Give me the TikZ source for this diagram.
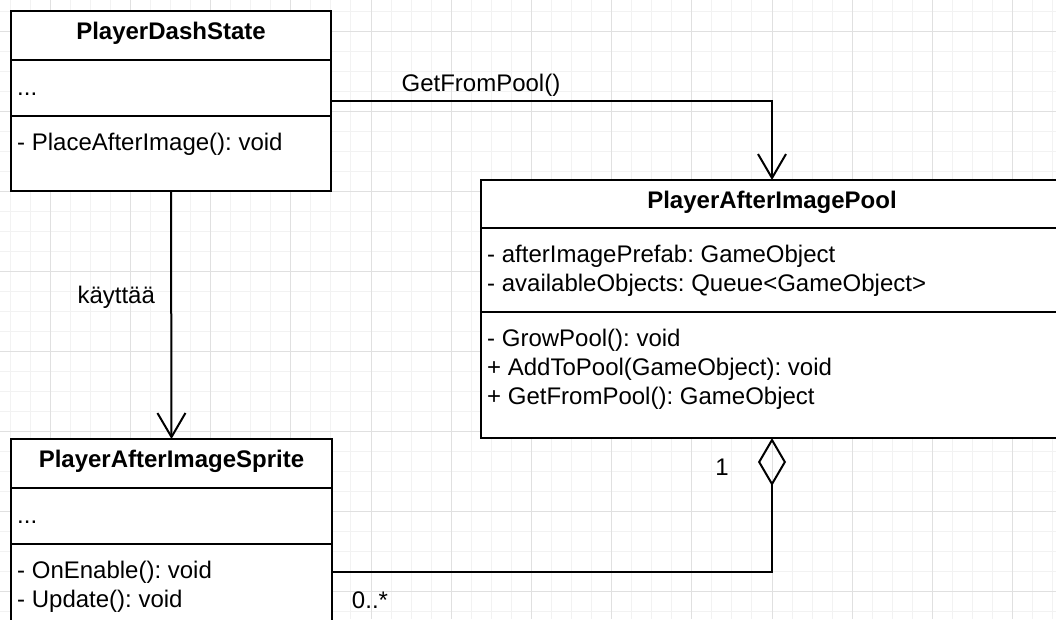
\documentclass[tikz,border=0pt]{standalone}
\usepackage{fontspec}
\setmainfont{Liberation Sans}
\usetikzlibrary{positioning, arrows.meta}

\newcommand{\umlsize}{\fontsize{24pt}{28.8pt}\selectfont\frenchspacing}

\tikzset{
    classbox/.style={draw, line width=2pt, outer sep=0pt, inner sep=0pt, fill=white},
    classtitle/.style={draw, line width=2pt, outer sep=0pt, font=\umlsize\bfseries, text height=17pt, text depth=9pt},
    member/.style={inner sep=0pt, font=\umlsize, text height=18pt, text depth=6pt},
    edgelabel/.style={font=\umlsize},
    gridminor/.style={black!5, line width=1pt},
    gridmajor/.style={black!12, line width=1pt},
}

\begin{document}
\begin{tikzpicture}[x=1pt, y=-1pt, >={Straight Barb[length=24pt, width=28pt]}]
    \useasboundingbox (0,0) rectangle (1056,619);
    \clip (0,0) rectangle (1056,619);
    \fill[white] (0,0) rectangle (1056,619);

    % background grid
    \foreach \i in {0,...,52}
        \draw[gridminor] ({10.1+20.05*\i},0) -- ({10.1+20.05*\i},619);
    \foreach \i in {0,...,30}
        \draw[gridminor] (0,{11+20*\i}) -- (1056,{11+20*\i});
    \foreach \i in {0,...,12}
        \draw[gridmajor] ({50.2+80.2*\i},0) -- ({50.2+80.2*\i},619);
    \foreach \i in {0,...,7}
        \draw[gridmajor] (0,{31+80*\i}) -- (1056,{31+80*\i});

    % PlayerDashState
    \node[classbox, minimum width=320pt, minimum height=180pt] (dash) at (171,101) {};
    \node[classtitle, minimum width=320pt, minimum height=49pt, anchor=north] (dashT) at (dash.north) {PlayerDashState};
    \node[classbox, minimum width=320pt, minimum height=56pt, below=0pt of dashT] (dashA) {};
    \node[member, below right=17pt and 6pt of dashA.north west] (dashDots) {...};
    \node[member, below right=16pt and 6pt of dashA.south west] (dashPlace) {- PlaceAfterImage(): void};

    % PlayerAfterImagePool
    \node[classbox, minimum width=582pt, minimum height=258pt] (pool) at (772,309) {};
    \node[classtitle, minimum width=582pt, minimum height=48pt, anchor=north] (poolT) at (pool.north) {PlayerAfterImagePool};
    \node[classbox, minimum width=582pt, minimum height=84pt, below=0pt of poolT] (poolA) {};
    \node[member, below right=16pt and 6pt of poolA.north west] (poolPrefab) {- afterImagePrefab: GameObject};
    \node[member, below right=4.5pt and 0pt of poolPrefab.south west] (poolQueue) {- availableObjects: Queue<GameObject>};
    \node[member, below right=16pt and 6pt of poolA.south west] (poolGrow) {- GrowPool(): void};
    \node[member, below right=4.5pt and 0pt of poolGrow.south west] (poolAdd) {+ AddToPool(GameObject): void};
    \node[member, below right=4.5pt and 0pt of poolAdd.south west] (poolGet) {+ GetFromPool(): GameObject};

    % PlayerAfterImageSprite
    \node[classbox, minimum width=321pt, minimum height=220pt] (sprite) at (171.5,549) {};
    \node[classtitle, minimum width=321pt, minimum height=49pt, anchor=north] (spriteT) at (sprite.north) {PlayerAfterImageSprite};
    \node[classbox, minimum width=321pt, minimum height=56pt, below=0pt of spriteT] (spriteA) {};
    \node[member, below right=17pt and 6pt of spriteA.north west] (spriteDots) {...};
    \node[member, below right=16pt and 6pt of spriteA.south west] (spriteOn) {- OnEnable(): void};
    \node[member, below right=4.5pt and 0pt of spriteOn.south west] (spriteUpd) {- Update(): void};

    % connectors
    \draw[line width=2pt, ->] (dash.east) -| node[edgelabel, pos=0.17, above=0pt] (callLabel) {GetFromPool()} (pool.north);
    \draw[line width=2pt, ->] (dash.south) -- node[edgelabel, pos=0.43, left=12pt] (useLabel) {käyttää} (sprite.north);
    \draw[line width=2pt, {Diamond[open, length=48pt, width=28pt]}-]
        (pool.south) node[edgelabel, xshift=-50pt, yshift=-29pt] (multOne) {1}
        |- (sprite.east |- spriteOn) node[edgelabel, xshift=38pt, yshift=-28pt] (multMany) {0..*};
\end{tikzpicture}
\end{document}
